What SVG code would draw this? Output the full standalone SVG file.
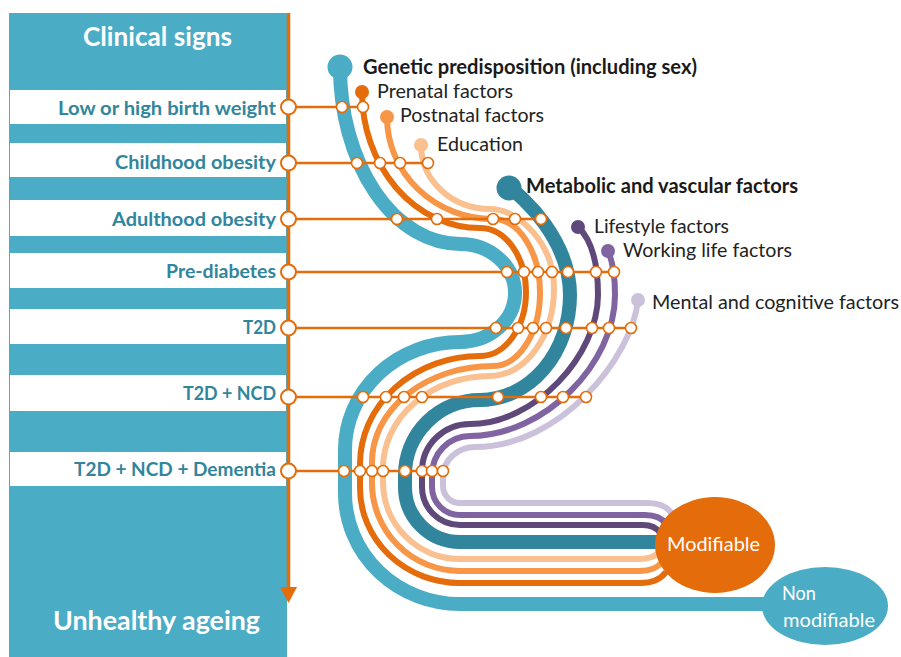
<svg xmlns="http://www.w3.org/2000/svg" width="901" height="657" viewBox="0 0 901 657">
<defs>
<style>
.lbl{font-family:Lato,"Open Sans","Liberation Sans",sans-serif;font-weight:700;font-size:19.5px;fill:#31859C;text-anchor:end}
.hdr{font-family:Lato,"Open Sans","Liberation Sans",sans-serif;font-weight:700;font-size:26px;fill:#ffffff}
.fac{font-family:Lato,"Open Sans","Liberation Sans",sans-serif;font-size:20px;fill:#222222}
.facb{font-family:Lato,"Open Sans","Liberation Sans",sans-serif;font-size:20px;font-weight:700;fill:#1a1a1a}
.wt{font-family:Lato,"Open Sans","Liberation Sans",sans-serif;font-size:20px;fill:#ffffff}
.band{fill:#ffffff}
.row{stroke:#E46C0A;stroke-width:2.5;fill:none}
.dot{fill:#ffffff;stroke:#E46C0A;stroke-width:1.6}
.big{fill:#ffffff;stroke:#E46C0A;stroke-width:2}
.ln{fill:none;stroke-linecap:butt}
.thick{stroke-width:14}
.thin{stroke-width:6}
</style>
</defs>
<rect width="901" height="657" fill="#ffffff"/>

<g id="clinical-signs-panel">
<rect x="9" y="13" width="278" height="644" fill="#4BACC6"/>
<rect class="band" x="10" y="90" width="276" height="34"/>
<rect class="band" x="10" y="143" width="276" height="34"/>
<rect class="band" x="10" y="200" width="276" height="36"/>
<rect class="band" x="10" y="253" width="276" height="35"/>
<rect class="band" x="10" y="309" width="276" height="35"/>
<rect class="band" x="10" y="375" width="276" height="36"/>
<rect class="band" x="10" y="452" width="276" height="34"/>
<text class="hdr" x="83" y="46" textLength="149" lengthAdjust="spacingAndGlyphs">Clinical signs</text>
<text class="hdr" x="53" y="630" textLength="207" lengthAdjust="spacingAndGlyphs">Unhealthy ageing</text>
</g>

<g id="connectors">
<path class="ln thick" stroke="#4BACC6" d="M340 67 A120 177 0 0 0 460 244 A55 49 0 0 1 460 342 A115 108 0 0 0 345 450 V493 A115 111 0 0 0 460 604 H800"/>
<path class="ln thin" stroke="#E46C0A" d="M362 92 A118 136 0 0 0 480 228 A46 64 0 0 1 480 356 A120 108 0 0 0 360 464 V488 A100 95 0 0 0 460 583 H640 Q658 583 666 572"/>
<path class="ln thin" stroke="#F79646" d="M387 117 A106 102 0 0 0 493 219 A47 73.5 0 0 1 493 366 A121 96 0 0 0 372 462 V483 A88 88 0 0 0 460 571 H640 Q655 571 662 562"/>
<path class="ln thin" stroke="#FAC090" d="M421 145 A69 64 0 0 0 490 209 C520 209 554 245 554 288 A64 88 0 0 1 490 376 A107 92 0 0 0 383 468 V482 A77 77 0 0 0 460 559 H640 Q652 559 660 552"/>
<path class="ln thick" stroke="#31859C" d="M509 188 C522 195 570 240 570 295 A90 105 0 0 1 480 400 A75 75 0 0 0 405 475 V487 A55 55 0 0 0 460 542 H665"/>
<path class="ln thin" stroke="#5F497A" d="M578 227 C592 240 598 265 598 295 C598 355 535 424 470 424 A48 47 0 0 0 422 471 V487 A38 38 0 0 0 460 525 H643 Q655 525 660 533"/>
<path class="ln thin" stroke="#8064A2" d="M608 251 C613 262 615 275 615 295 C615 363 545 436 470 436 A38 39 0 0 0 432 475 V487 A28 28 0 0 0 460 515 H645 Q660 515 666 524"/>
<path class="ln thin" stroke="#CCC1DA" d="M638 300 C632 358 560 447 475 447 A32 30 0 0 0 443 477 V486 A17 17 0 0 0 460 503 H648 Q665 503 672 514"/>

<line x1="288.5" y1="13" x2="288.5" y2="588" stroke="#E46C0A" stroke-width="3.5"/>
<polygon points="280,587 297,587 288.5,603" fill="#E46C0A"/>

<line class="row" x1="288.5" y1="107" x2="363" y2="107"/>
<line class="row" x1="288.5" y1="163" x2="429" y2="163"/>
<line class="row" x1="288.5" y1="219" x2="541" y2="219"/>
<line class="row" x1="288.5" y1="272" x2="614" y2="272"/>
<line class="row" x1="288.5" y1="328" x2="631" y2="328"/>
<line class="row" x1="288.5" y1="397" x2="585" y2="397"/>
<line class="row" x1="288.5" y1="471" x2="443" y2="471"/>

<g id="row-dots">
<circle class="dot" cx="342" cy="107" r="5.5"/><circle class="dot" cx="363" cy="107" r="5.5"/>
<circle class="dot" cx="357" cy="163" r="5.5"/><circle class="dot" cx="380" cy="163" r="5.5"/><circle class="dot" cx="400" cy="163" r="5.5"/><circle class="dot" cx="428" cy="163" r="5.5"/>
<circle class="dot" cx="397" cy="219" r="5.5"/><circle class="dot" cx="437" cy="219" r="5.5"/><circle class="dot" cx="493" cy="219" r="5.5"/><circle class="dot" cx="515" cy="219" r="5.5"/><circle class="dot" cx="541" cy="219" r="5.5"/>
<circle class="dot" cx="507" cy="272" r="5.5"/><circle class="dot" cx="524" cy="272" r="5.5"/><circle class="dot" cx="538" cy="272" r="5.5"/><circle class="dot" cx="552" cy="272" r="5.5"/><circle class="dot" cx="568" cy="272" r="5.5"/><circle class="dot" cx="596" cy="272" r="5.5"/><circle class="dot" cx="614" cy="272" r="5.5"/>
<circle class="dot" cx="496" cy="328" r="5.5"/><circle class="dot" cx="518" cy="328" r="5.5"/><circle class="dot" cx="533" cy="328" r="5.5"/><circle class="dot" cx="546" cy="328" r="5.5"/><circle class="dot" cx="566" cy="328" r="5.5"/><circle class="dot" cx="592" cy="328" r="5.5"/><circle class="dot" cx="609" cy="328" r="5.5"/><circle class="dot" cx="631" cy="328" r="5.5"/>
<circle class="dot" cx="363" cy="397" r="5.5"/><circle class="dot" cx="386" cy="397" r="5.5"/><circle class="dot" cx="404" cy="397" r="5.5"/><circle class="dot" cx="422" cy="397" r="5.5"/><circle class="dot" cx="498" cy="397" r="5.5"/><circle class="dot" cx="541" cy="397" r="5.5"/><circle class="dot" cx="563" cy="397" r="5.5"/><circle class="dot" cx="586" cy="397" r="5.5"/>
<circle class="dot" cx="344" cy="471" r="5.5"/><circle class="dot" cx="360" cy="471" r="5.5"/><circle class="dot" cx="372" cy="471" r="5.5"/><circle class="dot" cx="383" cy="471" r="5.5"/><circle class="dot" cx="405" cy="471" r="5.5"/><circle class="dot" cx="422" cy="471" r="5.5"/><circle class="dot" cx="432" cy="471" r="5.5"/><circle class="dot" cx="443" cy="471" r="5.5"/>
</g>
</g>

<g id="stage-birth-weight"><circle class="big" cx="288.5" cy="107" r="7.5"/><text class="lbl" x="276" y="115" textLength="218" lengthAdjust="spacingAndGlyphs">Low or high birth weight</text></g>
<g id="stage-childhood-obesity"><circle class="big" cx="288.5" cy="163" r="7.5"/><text class="lbl" x="276" y="169" textLength="161" lengthAdjust="spacingAndGlyphs">Childhood obesity</text></g>
<g id="stage-adulthood-obesity"><circle class="big" cx="288.5" cy="219" r="7.5"/><text class="lbl" x="276" y="226" textLength="164" lengthAdjust="spacingAndGlyphs">Adulthood obesity</text></g>
<g id="stage-pre-diabetes"><circle class="big" cx="288.5" cy="272" r="7.5"/><text class="lbl" x="276" y="278" textLength="110" lengthAdjust="spacingAndGlyphs">Pre-diabetes</text></g>
<g id="stage-t2d"><circle class="big" cx="288.5" cy="328" r="7.5"/><text class="lbl" x="276" y="334" textLength="33" lengthAdjust="spacingAndGlyphs">T2D</text></g>
<g id="stage-t2d-ncd"><circle class="big" cx="288.5" cy="397" r="7.5"/><text class="lbl" x="276" y="400" textLength="93" lengthAdjust="spacingAndGlyphs">T2D + NCD</text></g>
<g id="stage-t2d-ncd-dementia"><circle class="big" cx="288.5" cy="471" r="7.5"/><text class="lbl" x="276" y="476" textLength="202" lengthAdjust="spacingAndGlyphs">T2D + NCD + Dementia</text></g>

<g id="factor-genetic"><circle cx="340" cy="67" r="12.5" fill="#4BACC6"/><text class="facb" x="363" y="74" textLength="334" lengthAdjust="spacingAndGlyphs">Genetic predisposition (including sex)</text></g>
<g id="factor-prenatal"><circle cx="362" cy="92" r="7" fill="#E46C0A"/><text class="fac" x="377" y="98" textLength="136" lengthAdjust="spacingAndGlyphs">Prenatal factors</text></g>
<g id="factor-postnatal"><circle cx="387" cy="117" r="7" fill="#F79646"/><text class="fac" x="400" y="122" textLength="144" lengthAdjust="spacingAndGlyphs">Postnatal factors</text></g>
<g id="factor-education"><circle cx="421" cy="145" r="7" fill="#FAC090"/><text class="fac" x="437" y="151" textLength="86" lengthAdjust="spacingAndGlyphs">Education</text></g>
<g id="factor-metabolic"><circle cx="509" cy="188" r="12.5" fill="#31859C"/><text class="facb" x="526" y="193" textLength="272" lengthAdjust="spacingAndGlyphs">Metabolic and vascular factors</text></g>
<g id="factor-lifestyle"><circle cx="578" cy="227" r="7" fill="#5F497A"/><text class="fac" x="594" y="233" textLength="135" lengthAdjust="spacingAndGlyphs">Lifestyle factors</text></g>
<g id="factor-working"><circle cx="608" cy="251" r="7" fill="#8064A2"/><text class="fac" x="623" y="257" textLength="169" lengthAdjust="spacingAndGlyphs">Working life factors</text></g>
<g id="factor-mental"><circle cx="638" cy="300" r="7" fill="#CCC1DA"/><text class="fac" x="652" y="309" textLength="247" lengthAdjust="spacingAndGlyphs">Mental and cognitive factors</text></g>

<g id="modifiable"><ellipse cx="715" cy="545" rx="60" ry="48" fill="#E46C0A"/><text class="wt" x="667" y="551" textLength="93" lengthAdjust="spacingAndGlyphs">Modifiable</text></g>
<g id="non-modifiable"><ellipse cx="825" cy="606" rx="63" ry="39" fill="#4BACC6"/><text class="wt" x="782" y="600" textLength="34" lengthAdjust="spacingAndGlyphs">Non</text><text class="wt" x="783" y="627" textLength="92" lengthAdjust="spacingAndGlyphs">modifiable</text></g>
</svg>
